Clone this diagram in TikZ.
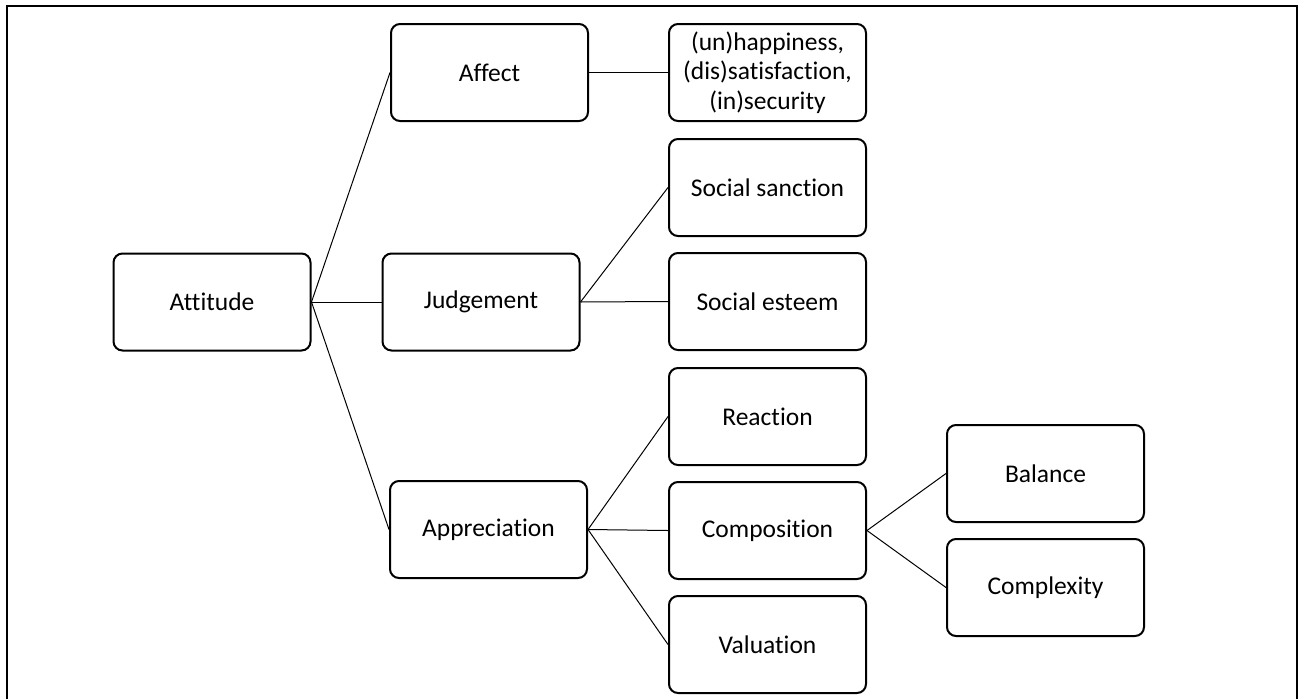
\documentclass[tikz,border=0pt]{standalone}
\usepackage{fontspec}
\setmainfont{Carlito}[Ligatures=CommonOff]
\usetikzlibrary{positioning}

\begin{document}
\begin{tikzpicture}[x=1pt, y=1pt, node distance=15pt, 
  box/.style={rectangle, rounded corners=9pt, draw=black, line width=2pt, minimum width=197pt, minimum height=97pt, align=center, font=\fontsize{25.5pt}{29.5pt}\selectfont},
  link/.style={line width=1pt}]
\useasboundingbox (0,0) rectangle (1300,-699);
\draw [line width=2.5pt] (7,-699) -- (7,-6) -- (1297,-6) -- (1297,-699);

\node (attitude) [box] at (212,-302) {Attitude};
\node (judgement) [right=70pt of attitude, box] {Judgement};
\node (affect) [box] at (489.5,-72.5) {Affect};
\node (appreciation) [box] at (488.5,-529.5) {Appreciation};

\node (feelings) [right=79pt of affect, box] {(un)happiness,\\(dis)satisfaction,\\(in)security};
\node (sanction) [box] at (767.5,-187.5) {Social sanction};
\node (esteem) [below=of sanction, box] {Social esteem};
\node (reaction) [box] at (767.5,-416.5) {Reaction};
\node (composition) [below=of reaction, box] {Composition};
\node (valuation) [below=of composition, box] {Valuation};

\node (balance) [right=79pt of composition, yshift=57pt, box] {Balance};
\node (complexity) [below=of balance, box] {Complexity};

\draw [link] (attitude.east) -- (affect.west);
\draw [link] (attitude.east) -- (judgement.west);
\draw [link] (attitude.east) -- (appreciation.west);

\draw [link] (affect.east) -- (feelings.west);

\draw [link] (judgement.east) -- (sanction.west);
\draw [link] (judgement.east) -- (esteem.west);

\draw [link] (appreciation.east) -- (reaction.west);
\draw [link] (appreciation.east) -- (composition.west);
\draw [link] (appreciation.east) -- (valuation.west);

\draw [link] (composition.east) -- (balance.west);
\draw [link] (composition.east) -- (complexity.west);
\end{tikzpicture}
\end{document}
